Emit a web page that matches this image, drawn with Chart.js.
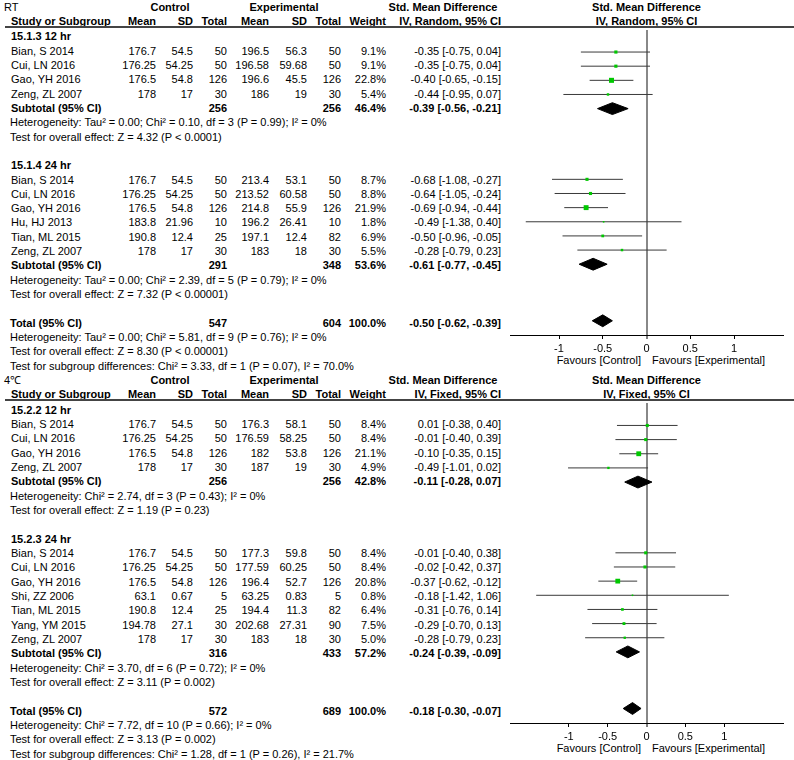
<!DOCTYPE html>
<html><head><meta charset="utf-8">
<script src="https://cdn.jsdelivr.net/npm/chart.js@4.4.1/dist/chart.umd.min.js"></script>
<style>
html,body{margin:0;padding:0;background:#fff;}
body{position:relative;width:794px;height:760px;overflow:hidden;font-family:"Liberation Sans",Arial,sans-serif;font-size:11px;color:#000;}
.t{position:absolute;white-space:nowrap;line-height:14px;height:14px;}
.b{font-weight:bold;}
.hl{position:absolute;height:1px;background:#000;}
canvas{position:absolute;}
</style></head><body>
<script>
// ================= DATA =================
// row: [study, ctrlMean, ctrlSD, ctrlTotal, expMean, expSD, expTotal, weight%, SMD, CIlow, CIhigh]
const rt12Rows = [
  ["Bian, S 2014", 176.7, 54.5, 50, 196.5, 56.3, 50, 9.1, -0.35, -0.75, 0.04],
  ["Cui, LN 2016", 176.25, 54.25, 50, 196.58, 59.68, 50, 9.1, -0.35, -0.75, 0.04],
  ["Gao, YH 2016", 176.5, 54.8, 126, 196.6, 45.5, 126, 22.8, -0.40, -0.65, -0.15],
  ["Zeng, ZL 2007", 178, 17, 30, 186, 19, 30, 5.4, -0.44, -0.95, 0.07]
];
// subtotal: [ctrlTotal, expTotal, weight%, SMD, CIlow, CIhigh]
const rt12Sub = [256, 256, 46.4, -0.39, -0.56, -0.21];
const rt12Text = ["Heterogeneity: Tau\u00B2 = 0.00; Chi\u00B2 = 0.10, df = 3 (P = 0.99); I\u00B2 = 0%", "Test for overall effect: Z = 4.32 (P < 0.0001)"];

const rt24Rows = [
  ["Bian, S 2014", 176.7, 54.5, 50, 213.4, 53.1, 50, 8.7, -0.68, -1.08, -0.27],
  ["Cui, LN 2016", 176.25, 54.25, 50, 213.52, 60.58, 50, 8.8, -0.64, -1.05, -0.24],
  ["Gao, YH 2016", 176.5, 54.8, 126, 214.8, 55.9, 126, 21.9, -0.69, -0.94, -0.44],
  ["Hu, HJ 2013", 183.8, 21.96, 10, 196.2, 26.41, 10, 1.8, -0.49, -1.38, 0.40],
  ["Tian, ML 2015", 190.8, 12.4, 25, 197.1, 12.4, 82, 6.9, -0.50, -0.96, -0.05],
  ["Zeng, ZL 2007", 178, 17, 30, 183, 18, 30, 5.5, -0.28, -0.79, 0.23]
];
const rt24Sub = [291, 348, 53.6, -0.61, -0.77, -0.45];
const rt24Text = ["Heterogeneity: Tau\u00B2 = 0.00; Chi\u00B2 = 2.39, df = 5 (P = 0.79); I\u00B2 = 0%", "Test for overall effect: Z = 7.32 (P < 0.00001)"];

const rtTotal = [547, 604, 100.0, -0.50, -0.62, -0.39];
const rtTotalText = ["Heterogeneity: Tau\u00B2 = 0.00; Chi\u00B2 = 5.81, df = 9 (P = 0.76); I\u00B2 = 0%", "Test for overall effect: Z = 8.30 (P < 0.00001)", "Test for subgroup differences: Chi\u00B2 = 3.33, df = 1 (P = 0.07), I\u00B2 = 70.0%"];

const c12Rows = [
  ["Bian, S 2014", 176.7, 54.5, 50, 176.3, 58.1, 50, 8.4, 0.01, -0.38, 0.40],
  ["Cui, LN 2016", 176.25, 54.25, 50, 176.59, 58.25, 50, 8.4, -0.01, -0.40, 0.39],
  ["Gao, YH 2016", 176.5, 54.8, 126, 182, 53.8, 126, 21.1, -0.10, -0.35, 0.15],
  ["Zeng, ZL 2007", 178, 17, 30, 187, 19, 30, 4.9, -0.49, -1.01, 0.02]
];
const c12Sub = [256, 256, 42.8, -0.11, -0.28, 0.07];
const c12Text = ["Heterogeneity: Chi\u00B2 = 2.74, df = 3 (P = 0.43); I\u00B2 = 0%", "Test for overall effect: Z = 1.19 (P = 0.23)"];

const c24Rows = [
  ["Bian, S 2014", 176.7, 54.5, 50, 177.3, 59.8, 50, 8.4, -0.01, -0.40, 0.38],
  ["Cui, LN 2016", 176.25, 54.25, 50, 177.59, 60.25, 50, 8.4, -0.02, -0.42, 0.37],
  ["Gao, YH 2016", 176.5, 54.8, 126, 196.4, 52.7, 126, 20.8, -0.37, -0.62, -0.12],
  ["Shi, ZZ 2006", 63.1, 0.67, 5, 63.25, 0.83, 5, 0.8, -0.18, -1.42, 1.06],
  ["Tian, ML 2015", 190.8, 12.4, 25, 194.4, 11.3, 82, 6.4, -0.31, -0.76, 0.14],
  ["Yang, YM 2015", 194.78, 27.1, 30, 202.68, 27.31, 90, 7.5, -0.29, -0.70, 0.13],
  ["Zeng, ZL 2007", 178, 17, 30, 183, 18, 30, 5.0, -0.28, -0.79, 0.23]
];
const c24Sub = [316, 433, 57.2, -0.24, -0.39, -0.09];
const c24Text = ["Heterogeneity: Chi\u00B2 = 3.70, df = 6 (P = 0.72); I\u00B2 = 0%", "Test for overall effect: Z = 3.11 (P = 0.002)"];

const cTotal = [572, 689, 100.0, -0.18, -0.30, -0.07];
const cTotalText = ["Heterogeneity: Chi\u00B2 = 7.72, df = 10 (P = 0.66); I\u00B2 = 0%", "Test for overall effect: Z = 3.13 (P = 0.002)", "Test for subgroup differences: Chi\u00B2 = 1.28, df = 1 (P = 0.26), I\u00B2 = 21.7%"];

const tickVals = [-1, -0.5, 0, 0.5, 1];
const tickLabels = ["-1", "-0.5", "0", "0.5", "1"];
// ========================================

const ROW = 14.33;
const W = 794;
const COL = {name: 11, cm: 156, csd: 193, cn: 227, em: 269, esd: 307, en: 341, w: 386, ci: 501};
const GREEN = '#00c800';

function addText(s, x, yc, align, bold) {
  const d = document.createElement('div');
  d.className = 't' + (bold ? ' b' : '');
  d.textContent = s;
  d.style.top = (yc - 7) + 'px';
  if (align === 'r') { d.style.right = (W - x) + 'px'; d.style.textAlign = 'right'; }
  else if (align === 'c') { d.style.left = (x - 150) + 'px'; d.style.width = '300px'; d.style.textAlign = 'center'; }
  else { d.style.left = x + 'px'; }
  document.body.appendChild(d);
}
function fmtCI(e, lo, hi) { return e.toFixed(2) + ' [' + lo.toFixed(2) + ', ' + hi.toFixed(2) + ']'; }

function buildPanel(p) {
  const off = p.off;
  const base = 34 + off;
  const yOf = r => base + r * ROW;
  const txtY = r => yOf(r) + 2.2;
  // headers
  addText(p.label, 4, off + 6.5, 'l', false);
  addText('Control', 170, off + 6.5, 'c', true);
  addText('Experimental', 284, off + 6.5, 'c', true);
  addText('Std. Mean Difference', 443, off + 6.5, 'c', true);
  addText('Std. Mean Difference', 646.5, off + 6.5, 'c', true);
  const h2 = off + 21;
  addText('Study or Subgroup', COL.name, h2, 'l', true);
  addText('Mean', COL.cm, h2, 'r', true);
  addText('SD', COL.csd, h2, 'r', true);
  addText('Total', COL.cn, h2, 'r', true);
  addText('Mean', COL.em, h2, 'r', true);
  addText('SD', COL.esd, h2, 'r', true);
  addText('Total', COL.en, h2, 'r', true);
  addText('Weight', COL.w, h2, 'r', true);
  addText(p.method, COL.ci, h2, 'r', true);
  addText(p.method, 646.5, h2, 'c', true);
  const lineY = Math.round(off + 25.5);
  const hl = document.createElement('div');
  hl.className = 'hl';
  hl.style.left = '5px'; hl.style.width = (W - 5) + 'px'; hl.style.top = lineY + 'px';
  hl.style.height = '2px'; hl.style.background = '#444';
  document.body.appendChild(hl);

  let r = 0;
  const pts = [], cis = [], dias = [];
  for (const g of p.groups) {
    addText(g.title, COL.name, txtY(r), 'l', true); r++;
    for (const row of g.rows) {
      const [name, cm, csd, cn, em, esd, en, w, e, lo, hi] = row;
      const y = txtY(r);
      addText(name, COL.name, y, 'l', false);
      addText(String(cm), COL.cm, y, 'r', false);
      addText(String(csd), COL.csd, y, 'r', false);
      addText(String(cn), COL.cn, y, 'r', false);
      addText(String(em), COL.em, y, 'r', false);
      addText(String(esd), COL.esd, y, 'r', false);
      addText(String(en), COL.en, y, 'r', false);
      addText(w.toFixed(1) + '%', COL.w, y, 'r', false);
      addText(fmtCI(e, lo, hi), COL.ci, y, 'r', false);
      pts.push({x: e, y: r, w: w});
      cis.push({lo: lo, hi: hi, r: r});
      r++;
    }
    const [cn, en, w, e, lo, hi] = g.sub;
    const y = txtY(r);
    addText('Subtotal (95% CI)', COL.name, y, 'l', true);
    addText(String(cn), COL.cn, y, 'r', true);
    addText(String(en), COL.en, y, 'r', true);
    addText(w.toFixed(1) + '%', COL.w, y, 'r', true);
    addText(fmtCI(e, lo, hi), COL.ci, y, 'r', true);
    dias.push({e: e, lo: lo, hi: hi, r: r});
    r++;
    for (const s of g.text) { addText(s, 10, txtY(r), 'l', false); r++; }
    r++; // blank line
  }
  const totalRow = r;
  {
    const [cn, en, w, e, lo, hi] = p.total;
    const y = txtY(r);
    addText('Total (95% CI)', 10, y, 'l', true);
    addText(String(cn), COL.cn, y, 'r', true);
    addText(String(en), COL.en, y, 'r', true);
    addText(w.toFixed(1) + '%', COL.w, y, 'r', true);
    addText(fmtCI(e, lo, hi), COL.ci, y, 'r', true);
    dias.push({e: e, lo: lo, hi: hi, r: r});
    r++;
  }
  for (const s of p.totalText) { addText(s, 10, txtY(r), 'l', false); r++; }

  // plot
  const axisRow = totalRow + 1;
  const areaH = Math.round(yOf(axisRow) - lineY);
  const axisPix = lineY + areaH;
  const yMin = (lineY - base) / ROW;
  const yMax = (axisPix - base) / ROW;
  const axisH = 24;
  addText('Favours [Control]', 641, axisPix + 25, 'r', false);
  addText('Favours [Experimental]', 652, axisPix + 25, 'l', false);

  const cv = document.createElement('canvas');
  cv.width = 294; cv.height = areaH + axisH;
  cv.style.left = '500px'; cv.style.top = lineY + 'px';
  cv.style.width = '294px'; cv.style.height = (areaH + axisH) + 'px';
  document.body.appendChild(cv);

  const halfDia = 6 / ROW;
  const datasets = [];
  datasets.push({
    label: 'studies',
    data: pts.map(q => ({x: q.x, y: q.y})),
    pointStyle: 'rect',
    pointRadius: pts.map(q => Math.max(1.6, 1.05 * Math.sqrt(q.w)) / Math.SQRT2),
    backgroundColor: GREEN, borderWidth: 0, showLine: false
  });
  dias.forEach(d => {
    datasets.push({
      label: 'pooled',
      data: [{x: d.lo, y: d.r}, {x: d.e, y: d.r - halfDia}, {x: d.hi, y: d.r}, {x: d.e, y: d.r + halfDia}, {x: d.lo, y: d.r}],
      showLine: true, fill: 'shape', backgroundColor: '#000', borderColor: '#000', borderWidth: 1,
      pointRadius: 0, tension: 0
    });
  });
  cis.forEach(c => {
    datasets.push({
      label: 'ci',
      data: [{x: c.lo, y: c.r}, {x: c.hi, y: c.r}],
      showLine: true, borderColor: '#3a3a3a', borderWidth: 1, pointRadius: 0, fill: false
    });
  });

  new Chart(cv, {
    type: 'scatter',
    data: {datasets: datasets},
    options: {
      responsive: false, animation: false, devicePixelRatio: 1,
      layout: {padding: {left: 10, right: 11, top: 0, bottom: 0}},
      plugins: {legend: {display: false}, tooltip: {enabled: false}},
      scales: {
        x: {
          type: 'linear', min: -p.range, max: p.range,
          afterBuildTicks: s => { s.ticks = tickVals.map(v => ({value: v})); },
          afterFit: s => { s.height = axisH; },
          ticks: {
            color: '#000', font: {family: 'Liberation Sans', size: 11}, padding: 3,
            maxRotation: 0, autoSkip: false,
            callback: (v) => { const i = tickVals.indexOf(v); return i >= 0 ? tickLabels[i] : ''; }
          },
          grid: {
            color: c => (c.tick && c.tick.value === 0) ? '#888' : 'rgba(0,0,0,0)',
            lineWidth: c => (c.tick && c.tick.value === 0) ? 2 : 1,
            tickLength: 4, tickColor: '#000', tickWidth: 1, drawOnChartArea: true
          },
          border: {display: true, color: '#000', width: 1}
        },
        y: {type: 'linear', display: false, reverse: true, min: yMin, max: yMax}
      }
    }
  });
}

buildPanel({
  off: 0, label: 'RT', method: 'IV, Random, 95% CI', range: 1.56,
  groups: [
    {title: '15.1.3 12 hr', rows: rt12Rows, sub: rt12Sub, text: rt12Text},
    {title: '15.1.4 24 hr', rows: rt24Rows, sub: rt24Sub, text: rt24Text}
  ],
  total: rtTotal, totalText: rtTotalText
});
buildPanel({
  off: 373.4, label: '4\u2103', method: 'IV, Fixed, 95% CI', range: 1.757,
  groups: [
    {title: '15.2.2 12 hr', rows: c12Rows, sub: c12Sub, text: c12Text},
    {title: '15.2.3 24 hr', rows: c24Rows, sub: c24Sub, text: c24Text}
  ],
  total: cTotal, totalText: cTotalText
});
</script>
</body></html>
